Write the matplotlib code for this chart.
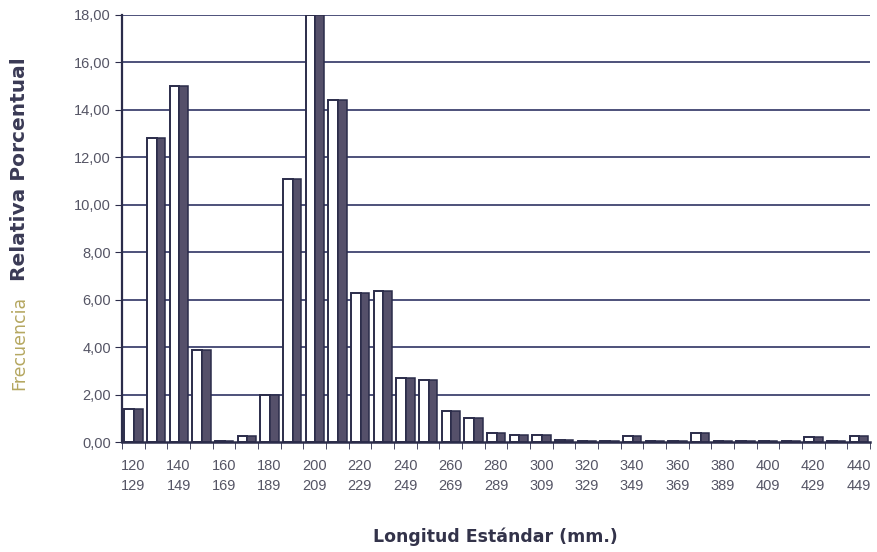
import numpy as np
import matplotlib.pyplot as plt
from matplotlib.ticker import FuncFormatter

# clases de longitud estandar (mm), intervalos de 10 mm
clases_ini = list(range(120, 450, 10))
clases_fin = [c + 9 for c in clases_ini]

# frecuencia relativa porcentual por clase
frecuencia = [1.4, 12.8, 15.0, 3.9, 0.05, 0.25, 2.0, 11.1, 18.0, 14.4,
              6.3, 6.35, 2.7, 2.6, 1.3, 1.0, 0.4, 0.3, 0.3, 0.1,
              0.05, 0.05, 0.25, 0.05, 0.05, 0.4, 0.05, 0.05, 0.05, 0.05,
              0.2, 0.05, 0.25]

etiquetas = [f"{a}\n{b}" for a, b in zip(clases_ini, clases_fin)]

fig = plt.figure(figsize=(8.77, 5.52), dpi=100)
ax = fig.add_axes([0.139, 0.199, 0.853, 0.774])

x = np.arange(len(frecuencia))
oscuro = '#2b2c4a'

# gridlines horizontales
for v in np.arange(2, 19, 2):
    ax.axhline(v, color='#2f3463', lw=1.2, zorder=1)

# columna: cara frontal blanca y lateral oscuro
ax.bar(x - 0.18, frecuencia, width=0.42, color='white', edgecolor=oscuro,
       linewidth=1.4, zorder=3)
ax.bar(x + 0.22, frecuencia, width=0.38, color='#55506a', edgecolor=oscuro,
       linewidth=1.1, zorder=3)

ax.set_xlim(-0.5, len(frecuencia) - 0.5)
ax.set_ylim(0, 18)
ax.set_yticks(np.arange(0, 19, 2))
ax.yaxis.set_major_formatter(FuncFormatter(lambda v, p: f"{v:.2f}".replace('.', ',')))

ax.set_xticks(x[::2])
ax.set_xticklabels(etiquetas[::2], linespacing=1.6)
ax.set_xticks(np.arange(-0.5, len(frecuencia), 1), minor=True)
ax.tick_params(axis='x', which='major', length=0, pad=12, labelsize=10.5,
               labelcolor='#555565')
ax.tick_params(axis='x', which='minor', length=5, color=oscuro, direction='out')
ax.tick_params(axis='y', length=5, color=oscuro, labelsize=10.5,
               labelcolor='#555565', pad=3)
for lab in ax.get_xticklabels() + ax.get_yticklabels():
    lab.set_family(['Liberation Sans Narrow', 'Liberation Sans', 'DejaVu Sans'])

for s in ['top', 'right']:
    ax.spines[s].set_visible(False)
ax.spines['left'].set_color(oscuro)
ax.spines['left'].set_linewidth(1.6)
ax.spines['bottom'].set_color(oscuro)
ax.spines['bottom'].set_linewidth(1.8)
ax.spines['bottom'].set_zorder(4)

fig.text(0.565, 0.01, 'Longitud Estándar (mm.)', ha='center', va='bottom',
         fontsize=12.5, fontweight='bold', color='#33334a')

# titulo del eje y en dos tramos
fig.text(0.022, 0.293, 'Frecuencia', rotation=90, ha='center', va='bottom',
         fontsize=12.5, color='#b5a760')
fig.text(0.022, 0.897, 'Relativa Porcentual', rotation=90, ha='center', va='top',
         fontsize=14.5, fontweight='bold', color='#3a3a55')

fig.savefig('out.png', dpi=100)
